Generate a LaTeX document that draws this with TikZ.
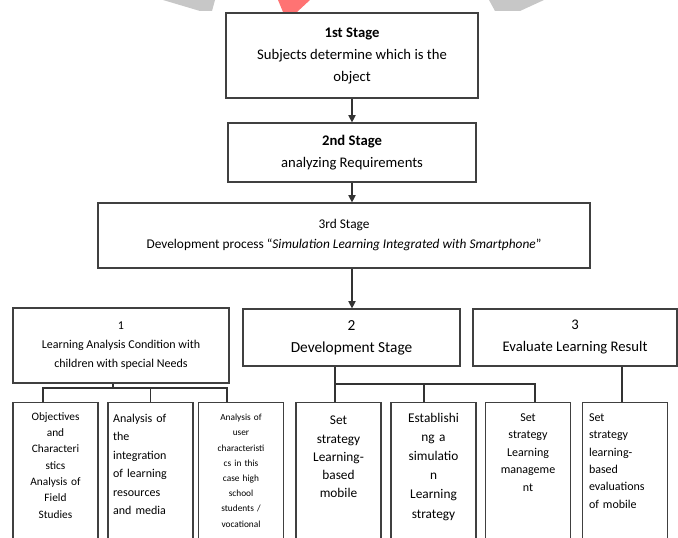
\documentclass[tikz,border=0pt]{standalone}
\usepackage{fontspec}
\setmainfont{Carlito}
\usetikzlibrary{arrows.meta,positioning}

\begin{document}
\begin{tikzpicture}[x=0.75pt, y=-0.75pt,
    box/.style={draw=black!75, line width=0.9pt, fill=white, align=center, inner sep=2pt},
    stagebox/.style={box, font=\fontsize{11}{16.5}\selectfont},
    leafbox/.style={draw=black!75, line width=0.9pt, anchor=north, minimum width=63.75pt, minimum height=120pt},
    leaftext/.style={align=center, text width=60pt, inner sep=0pt},
    line/.style={draw=black!80, line width=0.9pt},
    arrow/.style={line, -{Triangle[length=5.5pt,width=5.5pt]}}]
    \useasboundingbox (0,0) rectangle (678,538);
    \clip (0,0) rectangle (678,538);

    % watermark pieces at the top edge
    \fill[black!22] (163,0) -- (215,0) -- (212,11) -- (200,11) -- cycle;
    \fill[red!55] (278,0) -- (310,0) -- (297,12) -- (283,12) -- cycle;
    \fill[black!22] (489,0) -- (544,0) -- (520,11) -- (495,11) -- cycle;

    % Stages
    \node[stagebox, minimum width=189pt, minimum height=63.75pt] (s1) at (352,55.5)
        {\textbf{1st Stage}\\Subjects determine which is the\\object};
    \node[stagebox, minimum width=186pt, minimum height=44.25pt] (s2) at (352,152.5)
        {\textbf{2nd Stage}\\analyzing Requirements};
    \node[box, font=\fontsize{10}{15}\selectfont, minimum width=369pt, minimum height=48.75pt] (s3) at (344,235.5)
        {3rd Stage\\Development process “\textit{Simulation Learning Integrated with Smartphone}”};

    % Parts of the 3rd stage
    \node[box, font=\fontsize{9}{14}\selectfont, minimum width=162pt, minimum height=56.25pt] (cond) at (121,345.5)
        {1\\Learning Analysis Condition with\\children with special Needs};
    \node[box, font=\fontsize{11.5}{16.5}\selectfont, minimum width=162.75pt, minimum height=42.75pt] (dev) at (351.5,337.5)
        {2\\Development Stage};
    \node[box, font=\fontsize{11}{16.5}\selectfont, minimum width=153pt, minimum height=42.75pt] (eval) at (575,337.5)
        {3\\Evaluate Learning Result};

    % Leaf boxes (run past the bottom edge)
    \node[leafbox] (la) at (55.5,402) {};
    \node[leafbox] (lb) at (150.5,402) {};
    \node[leafbox] (lc) at (241,402) {};
    \node[leafbox] (ld) at (338.5,402) {};
    \node[leafbox] (le) at (433.5,402) {};
    \node[leafbox] (lf) at (528,402) {};
    \node[leafbox] (lg) at (625,402) {};

    \node[leaftext, font=\fontsize{8.5}{12.25}\selectfont, below=7.5pt of la.north] (la-txt)
        {Objectives\\and\\Characteri\\stics\\Analysis of\\Field\\Studies};
    \node[leaftext, align=left, text width=56pt, font=\fontsize{9}{13.8}\selectfont, below=9pt of lb.north] (lb-txt)
        {Analysis of\\the\\integration\\of learning\\resources\\and media};
    \node[leaftext, font=\fontsize{7}{11.4}\selectfont, below=9pt of lc.north] (lc-txt)
        {Analysis of\\user\\characteristi\\cs in this\\case high\\school\\students /\\vocational};
    \node[leaftext, font=\fontsize{10}{13.7}\selectfont, below=10.5pt of ld.north] (ld-txt)
        {Set\\strategy\\Learning-\\based\\mobile};
    \node[leaftext, font=\fontsize{10}{14.4}\selectfont, below=8pt of le.north] (le-txt)
        {Establishi\\ng a\\simulatio\\n\\Learning\\strategy};
    \node[leaftext, font=\fontsize{9}{13.1}\selectfont, below=8.5pt of lf.north] (lf-txt)
        {Set\\strategy\\Learning\\manageme\\nt};
    \node[leaftext, align=left, text width=54pt, font=\fontsize{9}{13}\selectfont, below=8.5pt of lg.north] (lg-txt)
        {Set\\strategy\\learning-\\based\\evaluations\\of mobile};

    % Arrows between the stages
    \draw[arrow] (s1) -- (s2);
    \draw[arrow] (s2.south) -- (s2.south |- s3.north);
    \draw[arrow] (s3.south -| s2.south) -- (s2.south |- dev.north);

    % Joints of the first group
    \coordinate (bus1) at (0,388);
    \coordinate (cond-out) at ([xshift=-6pt]cond.south);
    \coordinate (la-in) at ([xshift=-9.4pt]la.north);
    \coordinate (lc-in) at ([xshift=-10.5pt]lc.north);
    \draw[line] (cond-out) -- (cond-out |- bus1);
    \draw[line] (la-in) |- (lc-in |- bus1) -- (lc-in);
    \draw[line] (lb.north) -- (lb.north |- bus1);

    % Joints of the second group
    \coordinate (bus2) at (0,384);
    \coordinate (ld-in) at ([xshift=-2.6pt]ld.north);
    \coordinate (le-in) at ([xshift=-7.1pt]le.north);
    \coordinate (lf-in) at ([xshift=5.25pt]lf.north);
    \draw[line] (ld-in |- dev.south) -- (ld-in);
    \draw[line] (ld-in |- bus2) -- (lf-in |- bus2) -- (lf-in);
    \draw[line] (le-in) -- (le-in |- bus2);

    % Third group
    \coordinate (lg-in) at ([xshift=-2.25pt]lg.north);
    \draw[line] (lg-in |- eval.south) -- (lg-in);
\end{tikzpicture}
\end{document}
